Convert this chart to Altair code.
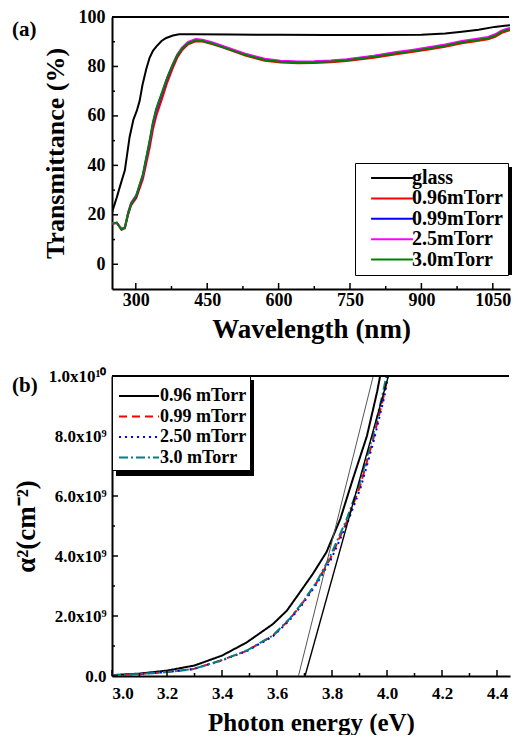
import altair as alt
import pandas as pd

FONT = "Liberation Serif"

# ---------------- panel (a): transmittance ----------------
glass_wl = [250, 260, 266, 277, 287, 295, 302, 308, 314, 322, 329, 336, 343, 354, 364, 378, 391,
            420, 500, 600, 700, 800, 900, 950, 985, 1020, 1054, 1075, 1086]
glass_t = [21, 27, 31, 38, 51.5, 58.5, 62, 66, 72.5, 79, 83.5, 86.3, 88, 90.3, 91.5, 92.5, 93,
           93, 92.9, 92.8, 92.7, 92.7, 92.8, 93.3, 94, 94.8, 96, 96.5, 96.7]

film_wl = [250, 260, 270, 277, 284, 290, 301, 315, 329, 336, 343, 356, 366, 377, 387, 397, 410,
           426, 440, 460, 480, 501, 530, 571, 604, 640, 675, 710, 743, 800, 847, 880, 915, 950,
           985, 1010, 1040, 1055, 1068, 1080, 1086]
t_096 = [16.4, 16.7, 14.0, 14.6, 20.2, 23.8, 26.8, 34.5, 47.0, 54.5, 60.0, 67.5, 73.5, 79.0, 83.5,
         86.5, 89.0, 90.2, 90.1, 89.1, 87.8, 86.4, 84.4, 82.3, 81.6, 81.3, 81.4, 81.7, 82.2, 83.5,
         84.9, 85.8, 86.9, 88.0, 89.4, 90.1, 91.0, 92.0, 93.5, 94.3, 94.7]
t_099 = [16.5, 16.8, 14.1, 14.8, 20.6, 24.3, 27.5, 35.8, 49.0, 56.5, 62.0, 69.3, 75.0, 80.2, 84.4,
         87.2, 89.5, 90.7, 90.5, 89.5, 88.2, 86.8, 84.9, 82.8, 82.1, 81.8, 81.9, 82.2, 82.7, 84.1,
         85.5, 86.4, 87.5, 88.6, 90.0, 90.7, 91.6, 92.7, 94.2, 95.0, 95.3]
t_25 = [16.6, 16.9, 14.3, 15.0, 21.0, 24.8, 28.0, 36.2, 49.6, 57.0, 62.6, 69.8, 75.5, 80.6, 84.8,
        87.6, 89.9, 91.1, 90.8, 89.8, 88.5, 87.1, 85.2, 83.1, 82.3, 82.0, 82.1, 82.4, 82.9, 84.3,
        85.8, 86.7, 87.8, 88.9, 90.3, 91.0, 91.9, 93.0, 94.5, 95.3, 95.6]
t_30 = [16.5, 16.8, 14.1, 14.8, 20.8, 24.5, 27.8, 36.5, 50.0, 57.5, 63.0, 70.0, 75.5, 80.5, 84.5,
        87.2, 89.4, 90.6, 90.3, 89.3, 88.0, 86.6, 84.7, 82.6, 81.9, 81.6, 81.7, 82.0, 82.5, 83.9,
        85.3, 86.2, 87.3, 88.4, 89.8, 90.5, 91.4, 92.5, 94.0, 94.8, 95.1]

series_a = ["glass", "0.96mTorr", "0.99mTorr", "2.5mTorr", "3.0mTorr"]
colors_a = ["#000000", "#ff0000", "#0000ff", "#ff00ff", "#008000"]

xtick_a = [300, 450, 600, 750, 900, 1050]
xminor_a = [375, 525, 675, 825, 975]
ytick_a = [0, 20, 40, 60, 80, 100]
yminor_a = [10, 30, 50, 70, 90]

# ---------------- panel (b): alpha^2 vs photon energy ----------------
e_096 = [3.0, 3.1, 3.2, 3.3, 3.4, 3.49, 3.585, 3.636, 3.684, 3.73, 3.78, 3.83, 3.876, 3.927, 3.964, 3.975]
a_096 = [0.03, 0.08, 0.18, 0.35, 0.68, 1.12, 1.73, 2.18, 2.8, 3.4, 4.13, 5.23, 6.57, 8.0, 9.47, 10.0]

e_099 = [3.0, 3.1, 3.2, 3.295, 3.393, 3.49, 3.585, 3.647, 3.695, 3.745, 3.793, 3.853, 3.902, 3.95, 3.988, 4.003]
a_099 = [0.02, 0.07, 0.13, 0.23, 0.51, 0.84, 1.34, 1.9, 2.46, 3.13, 3.9, 5.13, 6.33, 7.9, 9.33, 10.0]
e_250 = [3.0, 3.1, 3.2, 3.295, 3.393, 3.49, 3.585, 3.647, 3.695, 3.745, 3.795, 3.856, 3.905, 3.953, 3.99, 4.004]
a_250 = [0.02, 0.07, 0.13, 0.23, 0.5, 0.83, 1.32, 1.87, 2.42, 3.08, 3.86, 5.1, 6.3, 7.88, 9.3, 10.0]
e_300 = [3.0, 3.1, 3.2, 3.295, 3.393, 3.49, 3.585, 3.647, 3.695, 3.745, 3.79, 3.85, 3.898, 3.946, 3.983, 3.998]
a_300 = [0.02, 0.07, 0.13, 0.23, 0.51, 0.85, 1.35, 1.92, 2.48, 3.15, 3.93, 5.15, 6.35, 7.92, 9.35, 10.0]

tan1_e = [3.678, 3.95]
tan1_a = [0.0, 10.0]
tan2_e = [3.702, 4.005]
tan2_a = [0.0, 10.0]

series_b = ["0.96 mTorr", "0.99 mTorr", "2.50 mTorr", "3.0 mTorr"]
colors_b = ["#000000", "#ff0000", "#0000ff", "#008080"]
dashes_b = [[1, 0], [8, 5], [2, 4], [9, 3, 2, 3]]

xtick_b = [3.0, 3.2, 3.4, 3.6, 3.8, 4.0, 4.2, 4.4]
xminor_b = [3.1, 3.3, 3.5, 3.7, 3.9, 4.1, 4.3]
ytick_b = [0, 2e9, 4e9, 6e9, 8e9, 1e10]
yminor_b = [1e9, 3e9, 5e9, 7e9, 9e9]

# ---------------- build tables ----------------
rows_a = [{"wl": w, "T": t, "sa": "glass"} for w, t in zip(glass_wl, glass_t)]
for name, arr in zip(series_a[1:], [t_096, t_099, t_25, t_30]):
    rows_a += [{"wl": w, "T": t, "sa": name} for w, t in zip(film_wl, arr)]
df_a = pd.DataFrame(rows_a)

rows_b = []
for name, es, als in zip(series_b, [e_096, e_099, e_250, e_300], [a_096, a_099, a_250, a_300]):
    rows_b += [{"E": e, "A": a * 1e9, "sb": name} for e, a in zip(es, als)]
df_b = pd.DataFrame(rows_b)
df_tan1 = pd.DataFrame({"E": tan1_e, "A": [a * 1e9 for a in tan1_a]})
df_tan2 = pd.DataFrame({"E": tan2_e, "A": [a * 1e9 for a in tan2_a]})

W = 398
HA = 272
HB = 300

# ---------------- scales & axes ----------------
xs_a = alt.Scale(domain=[250, 250 + W / 0.476], nice=False, zero=False)
ys_a = alt.Scale(domain=[-10, 100], nice=False, zero=False)
xax_a = alt.Axis(values=xtick_a, ticks=False, labelPadding=2, labelFontSize=18, grid=False,
                 format="d", title="Wavelength (nm)", titleFontSize=27, titlePadding=7)
yax_a = alt.Axis(values=ytick_a, ticks=False, labelPadding=7, labelFontSize=18, grid=False,
                 title="Transmittance (%)", titleFontSize=26, titlePadding=10)

xs_b = alt.Scale(domain=[3.0, 3.0 + W / 275.0], nice=False, zero=False)
ys_b = alt.Scale(domain=[0, 1e10], nice=False, zero=False)
ylab_expr = ("datum.value == 0 ? '0.0' : (datum.value >= 1e10 ? '1.0x10\u00b9\u2070' : "
             "format(datum.value / 1e9, '.1f') + 'x10\u2079')")
xax_b = alt.Axis(values=xtick_b, ticks=False, labelPadding=9, labelFontSize=17, grid=False,
                 format=".1f", title="Photon energy (eV)", titleFontSize=25, titlePadding=9)
yax_b = alt.Axis(values=ytick_b, ticks=False, labelPadding=6, labelFontSize=17, grid=False,
                 labelExpr=ylab_expr, title="\u03b1\u00b2(cm\u207b\u00b2)",
                 titleFontSize=27, titlePadding=8)

LINE_SYMBOL = "M-5,0H5"


def legend(x, y, pad, size, fs, rowpad, symoff, laboff, top_gap=None):
    extra = {}
    if top_gap is not None:
        extra = dict(title=" ", titleFontSize=top_gap, titlePadding=1)
    else:
        extra = dict(title=None)
    return alt.Legend(orient="none", legendX=x, legendY=y,
                      strokeColor="black", fillColor="white", padding=pad,
                      symbolType=LINE_SYMBOL, symbolSize=size, symbolStrokeWidth=2,
                      symbolOffset=symoff, labelOffset=laboff,
                      labelFont=FONT, labelFontSize=fs, labelFontWeight="bold",
                      labelColor="black", rowPadding=rowpad, **extra)


def ticks_x(vals, length, xf, xs, xax, h):
    return alt.Chart(pd.DataFrame({xf: vals})).mark_rule(color="black", strokeWidth=1.5).encode(
        x=alt.X(f"{xf}:Q", scale=xs, axis=xax), y=alt.value(h), y2=alt.value(h - length))


def ticks_y(vals, length, yf, ys, yax):
    return alt.Chart(pd.DataFrame({yf: vals})).mark_rule(color="black", strokeWidth=1.5).encode(
        y=alt.Y(f"{yf}:Q", scale=ys, axis=yax), x=alt.value(0), x2=alt.value(length))


def top_border():
    return alt.Chart(pd.DataFrame({"k": [0]})).mark_rule(color="black", strokeWidth=2).encode(
        x=alt.value(0), x2=alt.value(W - 1), y=alt.value(0))


def shadow(x0, y0, x1, y1):
    return alt.Chart(pd.DataFrame({"k": [0]})).mark_rect(color="black").encode(
        x=alt.value(x0), x2=alt.value(x1), y=alt.value(y0), y2=alt.value(y1))


def anchor():
    # invisible point that fixes the panel's left/top extent
    return alt.Chart(pd.DataFrame({"k": [0]})).mark_rule(strokeWidth=0, opacity=0).encode(
        x=alt.value(-104), x2=alt.value(-103), y=alt.value(-9))


def panel_label(txt, x, y):
    return alt.Chart(pd.DataFrame({"t": [txt]})).mark_text(
        font=FONT, fontSize=21, fontWeight="bold", color="black", align="left", baseline="middle"
    ).encode(text="t:N", x=alt.value(x), y=alt.value(y))


# ---------------- panel (a) ----------------
lines_a = alt.Chart(df_a).mark_line(strokeWidth=2, clip=True).encode(
    x=alt.X("wl:Q", scale=xs_a, axis=xax_a),
    y=alt.Y("T:Q", scale=ys_a, axis=yax_a),
    color=alt.Color("sa:N", sort=series_a,
                    scale=alt.Scale(domain=series_a, range=colors_a),
                    legend=legend(243, 146, 5, 70, 20, 0.4, 22, 10)),
)

panel_a = alt.layer(
    anchor(),
    shadow(247, 150, 400, 258),
    lines_a,
    ticks_x(xtick_a, 6, "wl", xs_a, xax_a, HA),
    ticks_x(xminor_a, 3, "wl", xs_a, xax_a, HA),
    ticks_y(ytick_a, 6, "T", ys_a, yax_a),
    ticks_y(yminor_a, 3, "T", ys_a, yax_a),
    top_border(),
    panel_label("(a)", -100, 13),
).properties(width=W, height=HA)

# ---------------- panel (b) ----------------
leg_b = legend(0, 0, 3, 64, 18, 2.5, 15, 12, top_gap=7)
lines_b = alt.Chart(df_b).mark_line(strokeWidth=2, clip=True).encode(
    x=alt.X("E:Q", scale=xs_b, axis=xax_b),
    y=alt.Y("A:Q", scale=ys_b, axis=yax_b),
    color=alt.Color("sb:N", sort=series_b,
                    scale=alt.Scale(domain=series_b, range=colors_b), legend=leg_b),
    strokeDash=alt.StrokeDash("sb:N", sort=series_b,
                              scale=alt.Scale(domain=series_b, range=dashes_b), legend=leg_b),
)

tan1 = alt.Chart(df_tan1).mark_line(color="#555555", strokeWidth=1, clip=True).encode(
    x=alt.X("E:Q", scale=xs_b, axis=xax_b), y=alt.Y("A:Q", scale=ys_b, axis=yax_b))
tan2 = alt.Chart(df_tan2).mark_line(color="#000000", strokeWidth=1.4, clip=True).encode(
    x=alt.X("E:Q", scale=xs_b, axis=xax_b), y=alt.Y("A:Q", scale=ys_b, axis=yax_b))

panel_b = alt.layer(
    anchor(),
    shadow(4, 4, 142, 100),
    lines_b,
    tan1, tan2,
    ticks_x(xtick_b, 6, "E", xs_b, xax_b, HB),
    ticks_x(xminor_b, 3, "E", xs_b, xax_b, HB),
    ticks_y(ytick_b, 6, "A", ys_b, yax_b),
    ticks_y(yminor_b, 3, "A", ys_b, yax_b),
    top_border(),
    panel_label("(b)", -100, 10),
).properties(width=W, height=HB)

chart = alt.vconcat(panel_a, panel_b, spacing=25).resolve_scale(
    color="independent", strokeDash="independent"
).properties(
    padding={"left": 0, "top": 0, "right": 0, "bottom": 0}
).configure_view(stroke=None).configure_axis(
    domainColor="black", domainWidth=2, labelColor="black", titleColor="black",
    labelFont=FONT, titleFont=FONT, labelFontWeight="bold", titleFontWeight="bold",
)

chart.save("out.html", embed_options={"renderer": "svg", "actions": False})
